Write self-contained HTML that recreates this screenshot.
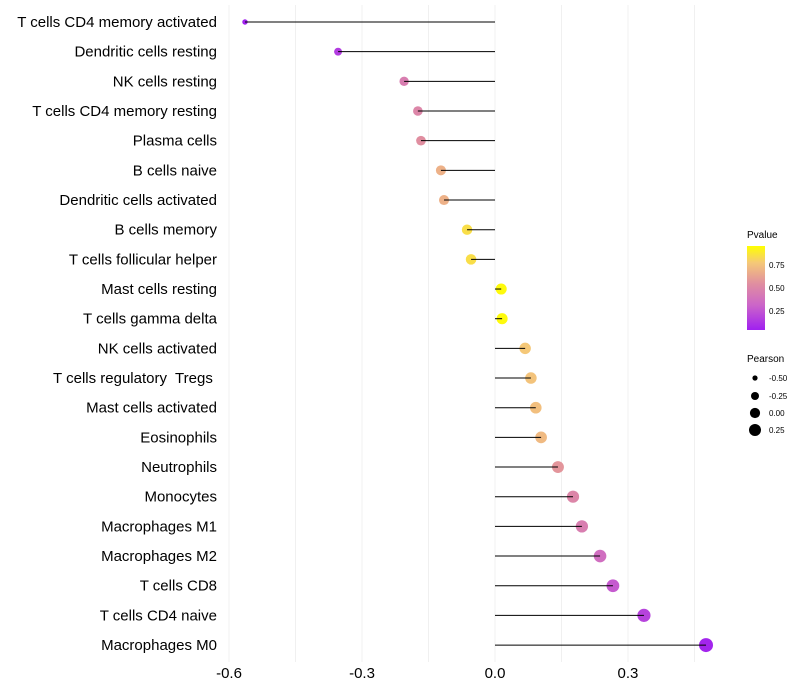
<!DOCTYPE html>
<html><head><meta charset="utf-8"><style>
body{margin:0;background:#fff;}
svg{display:block;font-family:"Liberation Sans",sans-serif;}
</style></head><body>
<svg id="chart" width="800" height="700">
<defs><linearGradient id="pg" x1="0" y1="1" x2="0" y2="0">
<stop offset="0" stop-color="#a020f0"/><stop offset="0.3" stop-color="#cc66c8"/><stop offset="0.55" stop-color="#e08ea0"/><stop offset="0.8" stop-color="#f5c878"/><stop offset="1" stop-color="#ffff00"/></linearGradient></defs>
<g id="grid"></g><g id="marks"></g><g id="ylabels"></g><g id="xlabels"></g>
<g>
<text x="747" y="238" font-size="10">Pvalue</text>
<rect x="747" y="246" width="18" height="84" fill="url(#pg)"/>
<text x="769" y="268" font-size="8">0.75</text>
<text x="769" y="291" font-size="8">0.50</text>
<text x="769" y="314" font-size="8">0.25</text>
</g>
<g>
<text x="747" y="362" font-size="10">Pearson</text>
<circle cx="755" cy="378" r="2.6" fill="#000"/><text x="769" y="381" font-size="8">-0.50</text>
<circle cx="755" cy="396" r="4" fill="#000"/><text x="769" y="399" font-size="8">-0.25</text>
<circle cx="755" cy="413" r="5.1" fill="#000"/><text x="769" y="416" font-size="8">0.00</text>
<circle cx="755" cy="430" r="6" fill="#000"/><text x="769" y="433" font-size="8">0.25</text>
</g>
</svg>
<script>
const categories=["T cells CD4 memory activated","Dendritic cells resting","NK cells resting","T cells CD4 memory resting","Plasma cells","B cells naive","Dendritic cells activated","B cells memory","T cells follicular helper","Mast cells resting","T cells gamma delta","NK cells activated","T cells regulatory  Tregs ","Mast cells activated","Eosinophils","Neutrophils","Monocytes","Macrophages M1","Macrophages M2","T cells CD8","T cells CD4 naive","Macrophages M0"];
const pearson=[-0.564,-0.354,-0.205,-0.174,-0.167,-0.122,-0.115,-0.063,-0.054,0.014,0.016,0.068,0.081,0.092,0.104,0.142,0.176,0.196,0.237,0.266,0.336,0.476];
const pvalue=[0.01,0.12,0.45,0.5,0.55,0.7,0.7,0.88,0.88,0.98,0.98,0.8,0.78,0.76,0.74,0.58,0.5,0.45,0.35,0.25,0.15,0.02];
const xTicks=[-0.6,-0.3,0.0,0.3];
const xTickLabels=["-0.6","-0.3","0.0","0.3"];
const NS="http://www.w3.org/2000/svg";
const x=v=>495+v*443.3;
const y=i=>22+i*29.67;
const rad=v=>Math.sqrt(Math.max(1,30+40*v));
const stops=[[0,[160,32,240]],[0.3,[204,102,200]],[0.55,[224,142,160]],[0.8,[245,200,120]],[1,[255,255,0]]];
function col(p){for(let k=1;k<stops.length;k++){if(p<=stops[k][0]){const a=stops[k-1],b=stops[k],t=(p-a[0])/(b[0]-a[0]);return "rgb("+a[1].map((c,j)=>Math.round(c+(b[1][j]-c)*t)).join(",")+")";}}return "rgb(255,255,0)";}
function mk(t,at,parent){const e=document.createElementNS(NS,t);for(const k in at)e.setAttribute(k,at[k]);parent.appendChild(e);return e;}
const grid=document.getElementById('grid'),marks=document.getElementById('marks'),yl=document.getElementById('ylabels'),xl=document.getElementById('xlabels');
for(let v=-0.6;v<=0.46;v+=0.15){const g=mk('line',{x1:x(v),x2:x(v),y1:5,y2:662,stroke:'#f0f0f0','stroke-width':1},grid);

}
xTicks.forEach((v,i)=>{const t=mk('text',{x:x(v),y:678,'font-size':15,'text-anchor':'middle',fill:'#000'},xl);t.textContent=xTickLabels[i];

});
categories.forEach((c,i)=>{
const t=mk('text',{x:217,y:y(i)+5,'font-size':15,'text-anchor':'end',fill:'#000','xml:space':'preserve',style:'white-space:pre'},yl);t.textContent=c;


const d=mk('circle',{cx:x(pearson[i]),cy:y(i),r:rad(pearson[i]),fill:col(pvalue[i])},marks);


const l=mk('line',{x1:x(0),x2:x(pearson[i]),y1:y(i),y2:y(i),stroke:'#000','stroke-width':1},marks);


});
</script>
</body></html>
